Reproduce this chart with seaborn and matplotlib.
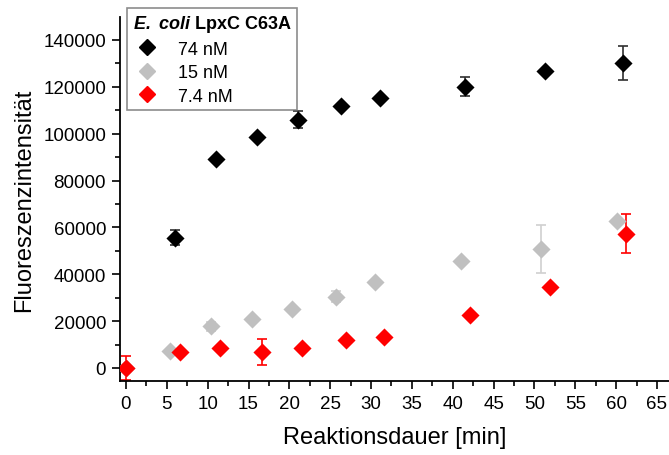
import numpy as np
import pandas as pd
import matplotlib
matplotlib.use("Agg")
import matplotlib.pyplot as plt
from matplotlib.ticker import MultipleLocator
from matplotlib.lines import Line2D
import seaborn as sns

t_74 = [6.0, 11.0, 16.0, 21.0, 26.3, 31.1, 41.5, 51.3, 60.8]
f_74 = [55500, 89300, 98600, 105900, 111900, 115300, 120000, 126800, 130300]
e_74 = [3200, 0, 0, 3600, 0, 0, 4000, 0, 7200]

t_15 = [0.0, 5.4, 10.4, 15.4, 20.3, 25.7, 30.5, 41.0, 50.8, 60.1]
f_15 = [0, 7300, 17800, 20800, 25000, 30400, 36900, 45800, 50900, 62800]
e_15 = [900, 0, 1800, 0, 0, 2400, 0, 0, 10200, 0]

t_7 = [0.0, 6.6, 11.5, 16.6, 21.5, 26.9, 31.6, 42.1, 51.9, 61.2]
f_7 = [0, 6700, 8600, 6900, 8600, 12100, 13400, 22700, 34700, 57400]
e_7 = [5000, 0, 0, 5500, 0, 0, 0, 0, 0, 8300]

labels = ["74 nM", "15 nM", "7.4 nM"]
colors = ["black", "#c0c0c0", "#ff0000"]
err_colors = ["#303030", "#d0d0d0", "#ff0000"]

sns.set_style("ticks")
plt.rcParams["font.family"] = ["Liberation Sans", "DejaVu Sans"]
plt.rcParams["text.color"] = "black"
plt.rcParams["axes.labelcolor"] = "black"
plt.rcParams["mathtext.fontset"] = "custom"
plt.rcParams["mathtext.bfit"] = "Liberation Sans:italic:bold"
plt.rcParams["mathtext.it"] = "Liberation Sans:italic"
plt.rcParams["mathtext.rm"] = "Liberation Sans"

df = pd.concat([
    pd.DataFrame({"t": t_74, "f": f_74, "err": e_74, "conc": labels[0]}),
    pd.DataFrame({"t": t_15, "f": f_15, "err": e_15, "conc": labels[1]}),
    pd.DataFrame({"t": t_7, "f": f_7, "err": e_7, "conc": labels[2]}),
])

fig = plt.figure(figsize=(6.69, 4.56), dpi=100)
ax = fig.add_axes([120 / 669, 74 / 456, 549 / 669, 364 / 456])

for lab, c, ec in zip(labels, colors, err_colors):
    sub = df[df["conc"] == lab]
    has = sub[sub["err"] > 0]
    ax.errorbar(has["t"], has["f"], yerr=has["err"], fmt="none", ecolor=ec,
                elinewidth=1.2, capsize=3.5, capthick=1.2, zorder=2)
    sns.scatterplot(data=sub, x="t", y="f", color=c, marker="D", s=85,
                    edgecolor=c, linewidth=0, ax=ax, zorder=3, legend=False)

ax.set_xlim(-0.73, 66.47)
ax.set_ylim(-5550, 149800)
ax.xaxis.set_major_locator(MultipleLocator(5))
ax.xaxis.set_minor_locator(MultipleLocator(2.5))
ax.yaxis.set_major_locator(MultipleLocator(20000))
ax.yaxis.set_minor_locator(MultipleLocator(10000))
ax.tick_params(which="major", direction="out", length=6, width=1.2, labelsize=13.5,
               colors="black", labelcolor="black", pad=4)
ax.tick_params(which="minor", direction="out", length=3.5, width=1.2, colors="black")
for s in ["top", "right"]:
    ax.spines[s].set_visible(False)
for s in ["left", "bottom"]:
    ax.spines[s].set_linewidth(1.3)
    ax.spines[s].set_color("black")

ax.set_xlabel("Reaktionsdauer [min]", fontsize=17, labelpad=10)
ax.set_ylabel("Fluoreszenzintensität", fontsize=17, labelpad=6)

handles = [Line2D([], [], marker="D", color=c, linestyle="none", markersize=8) for c in colors]
leg = ax.legend(handles, labels, title=r"$\mathbfit{E.\ coli}$ LpxC C63A",
                loc="upper left", bbox_to_anchor=(0.013, 1.025), borderaxespad=0,
                fontsize=13, title_fontproperties={"weight": "bold", "size": 13},
                frameon=True, fancybox=False, edgecolor="#707070",
                handletextpad=0.9, labelspacing=0.36, borderpad=0.3,
                handlelength=1.6)
leg.get_frame().set_linewidth(1.2)
leg._legend_box.align = "left"

fig.savefig("out.png", dpi=100)
